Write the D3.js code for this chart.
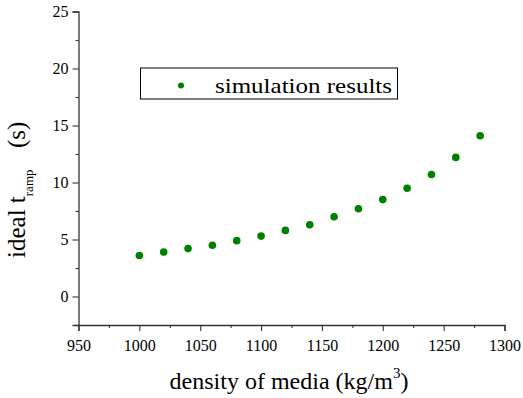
<!DOCTYPE html>
<html>
<head>
<meta charset="utf-8">
<script src="https://cdn.jsdelivr.net/npm/d3@7"></script>
<style>
  html, body { margin: 0; padding: 0; background: #fff; }
  svg { display: block; }
</style>
</head>
<body>
<script>
// Density of the media (kg/m^3) and the ideal ramp time found by simulation (s)
const density = [1000, 1020, 1040, 1060, 1080, 1100, 1120, 1140, 1160, 1180, 1200, 1220, 1240, 1260, 1280];
const tRamp = [3.6, 3.9, 4.2, 4.5, 4.9, 5.3, 5.8, 6.3, 7.0, 7.7, 8.5, 9.5, 10.7, 12.2, 14.1];

const xTicks = [950, 1000, 1050, 1100, 1150, 1200, 1250, 1300];
const xMinorTicks = [975, 1025, 1075, 1125, 1175, 1225, 1275];
const yTicks = [0, 5, 10, 15, 20, 25];
const yMinorTicks = [-2.5, 2.5, 7.5, 12.5, 17.5, 22.5];

const W = 523, H = 398;
const plotLeft = 78.5, plotRight = 504.5, plotTop = 11.5, plotBottom = 325;
const FONT = "Liberation Serif";

const svg = d3.select("body").append("svg").attr("width", W).attr("height", H)
  .attr("font-family", FONT);

const x = d3.scaleLinear().domain([950, 1300]).range([plotLeft, plotRight]);
const y = d3.scaleLinear().domain([-2.5, 25]).range([plotBottom, plotTop]);

const axisColor = "#333";

// bottom axis: major + minor ticks
const gx = svg.append("g").attr("transform", `translate(0,${plotBottom})`);
gx.call(d3.axisBottom(x).tickValues(xTicks).tickSize(6).tickPadding(5).tickFormat(d3.format("d")));
gx.append("g").call(d3.axisBottom(x).tickValues(xMinorTicks).tickSize(3).tickFormat(""))
  .select(".domain").remove();

// left axis: major + minor ticks
const gy = svg.append("g").attr("transform", `translate(${plotLeft},0)`);
gy.call(d3.axisLeft(y).tickValues(yTicks).tickSize(6).tickPadding(4).tickFormat(d3.format("d")));
gy.append("g").call(d3.axisLeft(y).tickValues(yMinorTicks).tickSize(3).tickFormat(""))
  .select(".domain").remove();

// axis groups default to sans-serif; switch them to the serif face
gx.attr("font-family", FONT).attr("font-size", 16);
gy.attr("font-family", FONT).attr("font-size", 16);
svg.selectAll(".domain").attr("stroke", axisColor).attr("stroke-width", 1.3);
svg.selectAll(".tick line").attr("stroke", axisColor).attr("stroke-width", 1.1);
svg.selectAll(".tick text").attr("font-family", FONT).attr("font-size", 16).attr("fill", "#000");
gx.selectAll(".tick text").attr("dy", "0.95em");

// data points
svg.append("g").selectAll("circle")
  .data(density.map((d, i) => [d, tRamp[i]]))
  .join("circle")
  .attr("cx", d => x(d[0]))
  .attr("cy", d => y(d[1]))
  .attr("r", 3.8)
  .attr("fill", "#008000");

// legend
const lg = svg.append("g");
lg.append("rect")
  .attr("x", 140.5).attr("y", 68).attr("width", 257).attr("height", 31)
  .attr("fill", "#fff").attr("stroke", "#000").attr("stroke-width", 1);
lg.append("circle").attr("cx", 181).attr("cy", 85.5).attr("r", 3).attr("fill", "#008000");
lg.append("text").attr("x", 215).attr("y", 93.3)
  .attr("font-family", FONT).attr("font-size", 21)
  .attr("textLength", 177).attr("lengthAdjust", "spacingAndGlyphs")
  .text("simulation results");

// x axis title
const xt = svg.append("text")
  .attr("x", 289).attr("y", 389)
  .attr("text-anchor", "middle")
  .attr("font-family", FONT).attr("font-size", 24);
xt.append("tspan").text("density of media (kg/m");
xt.append("tspan").attr("font-size", 15).attr("dy", -11).text("3");
xt.append("tspan").attr("dy", 11).text(")");

// y axis title (rotated; local x runs upward along the axis)
const yt = svg.append("text")
  .attr("transform", "translate(25,0) rotate(-90)")
  .attr("font-family", FONT).attr("font-size", 25);
yt.append("tspan").attr("x", -258).attr("y", 0).text("ideal t");
yt.append("tspan").attr("font-size", 13).attr("dy", 7.5).text("ramp");
yt.append("tspan").attr("x", -148).attr("y", 0).text("(s)");
</script>
</body>
</html>
